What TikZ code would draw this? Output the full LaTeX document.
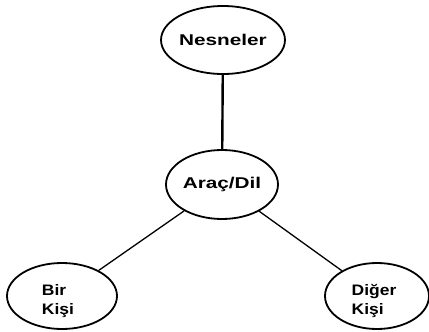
\documentclass[tikz,border=0pt]{standalone}
\usepackage{fontspec}
\setmainfont{Liberation Sans}
\newfontfamily\wideA[FakeStretch=1.33]{Liberation Sans}
\newfontfamily\wideB[FakeStretch=1.15]{Liberation Sans}
\usetikzlibrary{shapes.geometric}
\begin{document}
\begin{tikzpicture}[x=1pt,y=-1pt,
  bubble/.style={ellipse,draw=black,line width=1.8pt,inner sep=0pt,fill=white},
  topfont/.style={font=\wideA\bfseries\fontsize{15.6}{18}\selectfont},
  lowfont/.style={font=\wideB\bfseries\fontsize{15.2}{19.5}\selectfont,align=left,inner sep=0pt},
  thickline/.style={line width=2.4pt},
  thinline/.style={line width=1.3pt}]
\useasboundingbox (0,0) rectangle (429,332);
\node[bubble,topfont,minimum width=112pt,minimum height=68pt] (nes) at (223,40) {Nesneler};
\node[bubble,topfont,minimum width=112pt,minimum height=69pt] (arac) at (222,184.5) {Araç/Dil};
\node[bubble,minimum width=110pt,minimum height=66pt] (bir) at (62,296) {};
\node[bubble,minimum width=104pt,minimum height=66pt] (diger) at (377,296) {};
\node[lowfont] (birtext) at (58,301) {Bir\\Kişi};
\node[lowfont] (digertext) at (374,301) {Diğer\\Kişi};
\draw[thickline] (nes) -- (arac);
\draw[thinline] (arac) -- (bir);
\draw[thinline] (arac) -- (diger);
\end{tikzpicture}
\end{document}
